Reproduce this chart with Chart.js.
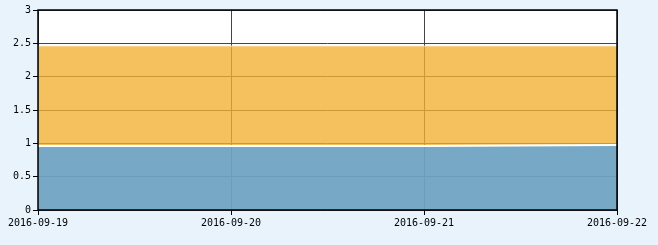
<!DOCTYPE html>
<html>
<head>
<meta charset="utf-8">
<script src="https://cdn.jsdelivr.net/npm/chart.js@4"></script>
<style>
    html, body { margin: 0; padding: 0; background: #e8f3fb; }
    #wrap { width: 658px; height: 245px; position: relative; }
</style>
</head>
<body>
<div id="wrap"><canvas id="chart"></canvas></div>
<script>
// values
const dates = ['2016-09-19', '2016-09-20', '2016-09-21', '2016-09-22'];
const lowerSeries = [0.96, 0.96, 0.96, 0.975];
const upperSeries = [1.5, 1.5, 1.5, 1.485];
const yTicks = [0, 0.5, 1, 1.5, 2, 2.5, 3];

const axisFont = { family: 'DejaVu Sans Mono', size: 10 };

// white plot area and black frame around it
const plotFrame = {
    id: 'plotFrame',
    beforeDraw(chart) {
        const { ctx, chartArea: a } = chart;
        ctx.save();
        ctx.fillStyle = '#ffffff';
        ctx.fillRect(a.left, a.top, a.right - a.left, a.bottom - a.top);
        ctx.restore();
    },
    afterDraw(chart) {
        const { ctx, chartArea: a } = chart;
        ctx.save();
        ctx.strokeStyle = '#000000';
        ctx.lineWidth = 1.5;
        ctx.strokeRect(a.left, a.top, a.right - a.left, a.bottom - a.top);
        ctx.restore();
    }
};

new Chart(document.getElementById('chart'), {
    type: 'line',
    data: {
        labels: dates,
        datasets: [
            {
                label: 'lower',
                data: lowerSeries,
                fill: 'origin',
                backgroundColor: 'rgba(111,164,194,0.94)',
                borderColor: '#ffffff',
                borderWidth: 2,
                pointRadius: 0,
                tension: 0
            },
            {
                label: 'upper',
                data: upperSeries,
                fill: '-1',
                backgroundColor: 'rgba(242,176,50,0.78)',
                borderColor: 'rgba(255,240,210,0.8)',
                borderWidth: 1,
                pointRadius: 0,
                tension: 0
            }
        ]
    },
    options: {
        responsive: true,
        maintainAspectRatio: false,
        animation: false,
        layout: { padding: { left: 0, right: 41, top: 10, bottom: 0 } },
        plugins: {
            legend: { display: false },
            tooltip: { enabled: false }
        },
        scales: {
            x: {
                offset: false,
                grid: { color: '#444444', tickColor: '#000000', tickLength: 5, lineWidth: 1 },
                border: { display: false },
                ticks: { color: '#000000', font: axisFont, padding: 2, maxRotation: 0, autoSkip: false },
                afterFit: (scale) => { scale.height = 35; }
            },
            y: {
                stacked: true,
                min: yTicks[0],
                max: yTicks[yTicks.length - 1],
                afterBuildTicks: (scale) => { scale.ticks = yTicks.map(v => ({ value: v })); },
                grid: { color: '#444444', tickColor: '#000000', tickLength: 5, lineWidth: 1 },
                border: { display: false },
                ticks: { color: '#000000', font: axisFont, padding: 2, callback: (v) => String(v) },
                afterFit: (scale) => { scale.width = 38; }
            }
        }
    },
    plugins: [plotFrame]
});
</script>
</body>
</html>
